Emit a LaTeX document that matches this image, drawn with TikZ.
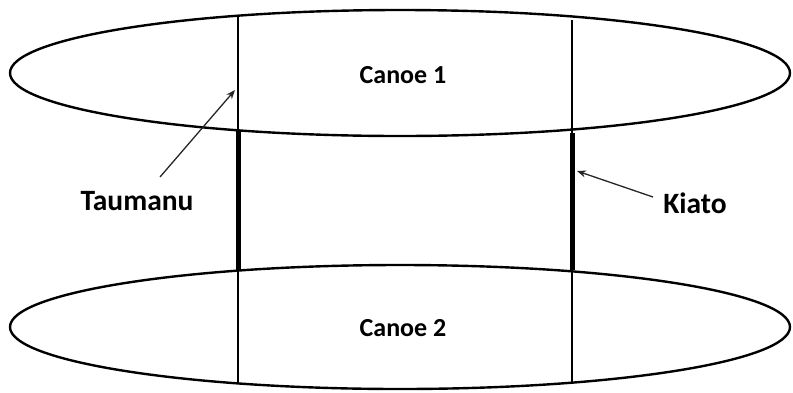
\documentclass[tikz,border=0pt]{standalone}
\usepackage{fontspec}
\setmainfont{Carlito}
\usetikzlibrary{arrows.meta,shapes.geometric}
\begin{document}
\begin{tikzpicture}[x=1pt,y=-1pt,
  hull/.style={draw=black,line width=2.4pt,ellipse,inner sep=0pt,minimum width=780pt},
  beam/.style={draw=black,line width=2.2pt},
  kbeam/.style={draw=black,line width=5pt},
  pointer/.style={draw=black!85,line width=1.3pt,-{Stealth[length=9pt,width=7pt]}},
  canoelbl/.style={font=\bfseries\fontsize{26}{30}\selectfont,inner sep=0pt},
  partlbl/.style={font=\bfseries\fontsize{29.5}{33}\selectfont,inner sep=0pt}]
\useasboundingbox (0,0) rectangle (793,392);
\node[hull,minimum height=126pt] (h1) at (400,73) {};
\node[hull,minimum height=124pt] (h2) at (400,327) {};
\coordinate (lt) at (238,16);
\coordinate (lu) at (238,130);
\coordinate (ll) at (238,270);
\coordinate (lb) at (238,384);
\coordinate (rt) at (572,20);
\coordinate (ru) at (572,133);
\coordinate (rl) at (572,270);
\coordinate (rb) at (572,383);
\draw[beam] (lt) -- (lu);
\draw[kbeam] (lu) -- (ll);
\draw[beam] (ll) -- (lb);
\draw[beam] (rt) -- (ru);
\draw[kbeam] (ru) -- (rl);
\draw[beam] (rl) -- (rb);
\node[canoelbl] (c1) at (403,75) {Canoe 1};
\node[canoelbl] (c2) at (403,328) {Canoe 2};
\node[partlbl] (tau) at (137,201) {Taumanu};
\node[partlbl] (kia) at (695,203) {Kiato};
\coordinate (taut) at (235,90);
\coordinate (kiat) at (577,171);
\draw[pointer] (160,177) -- (taut);
\draw[pointer] (653,197) -- (kiat);
\end{tikzpicture}
\end{document}
